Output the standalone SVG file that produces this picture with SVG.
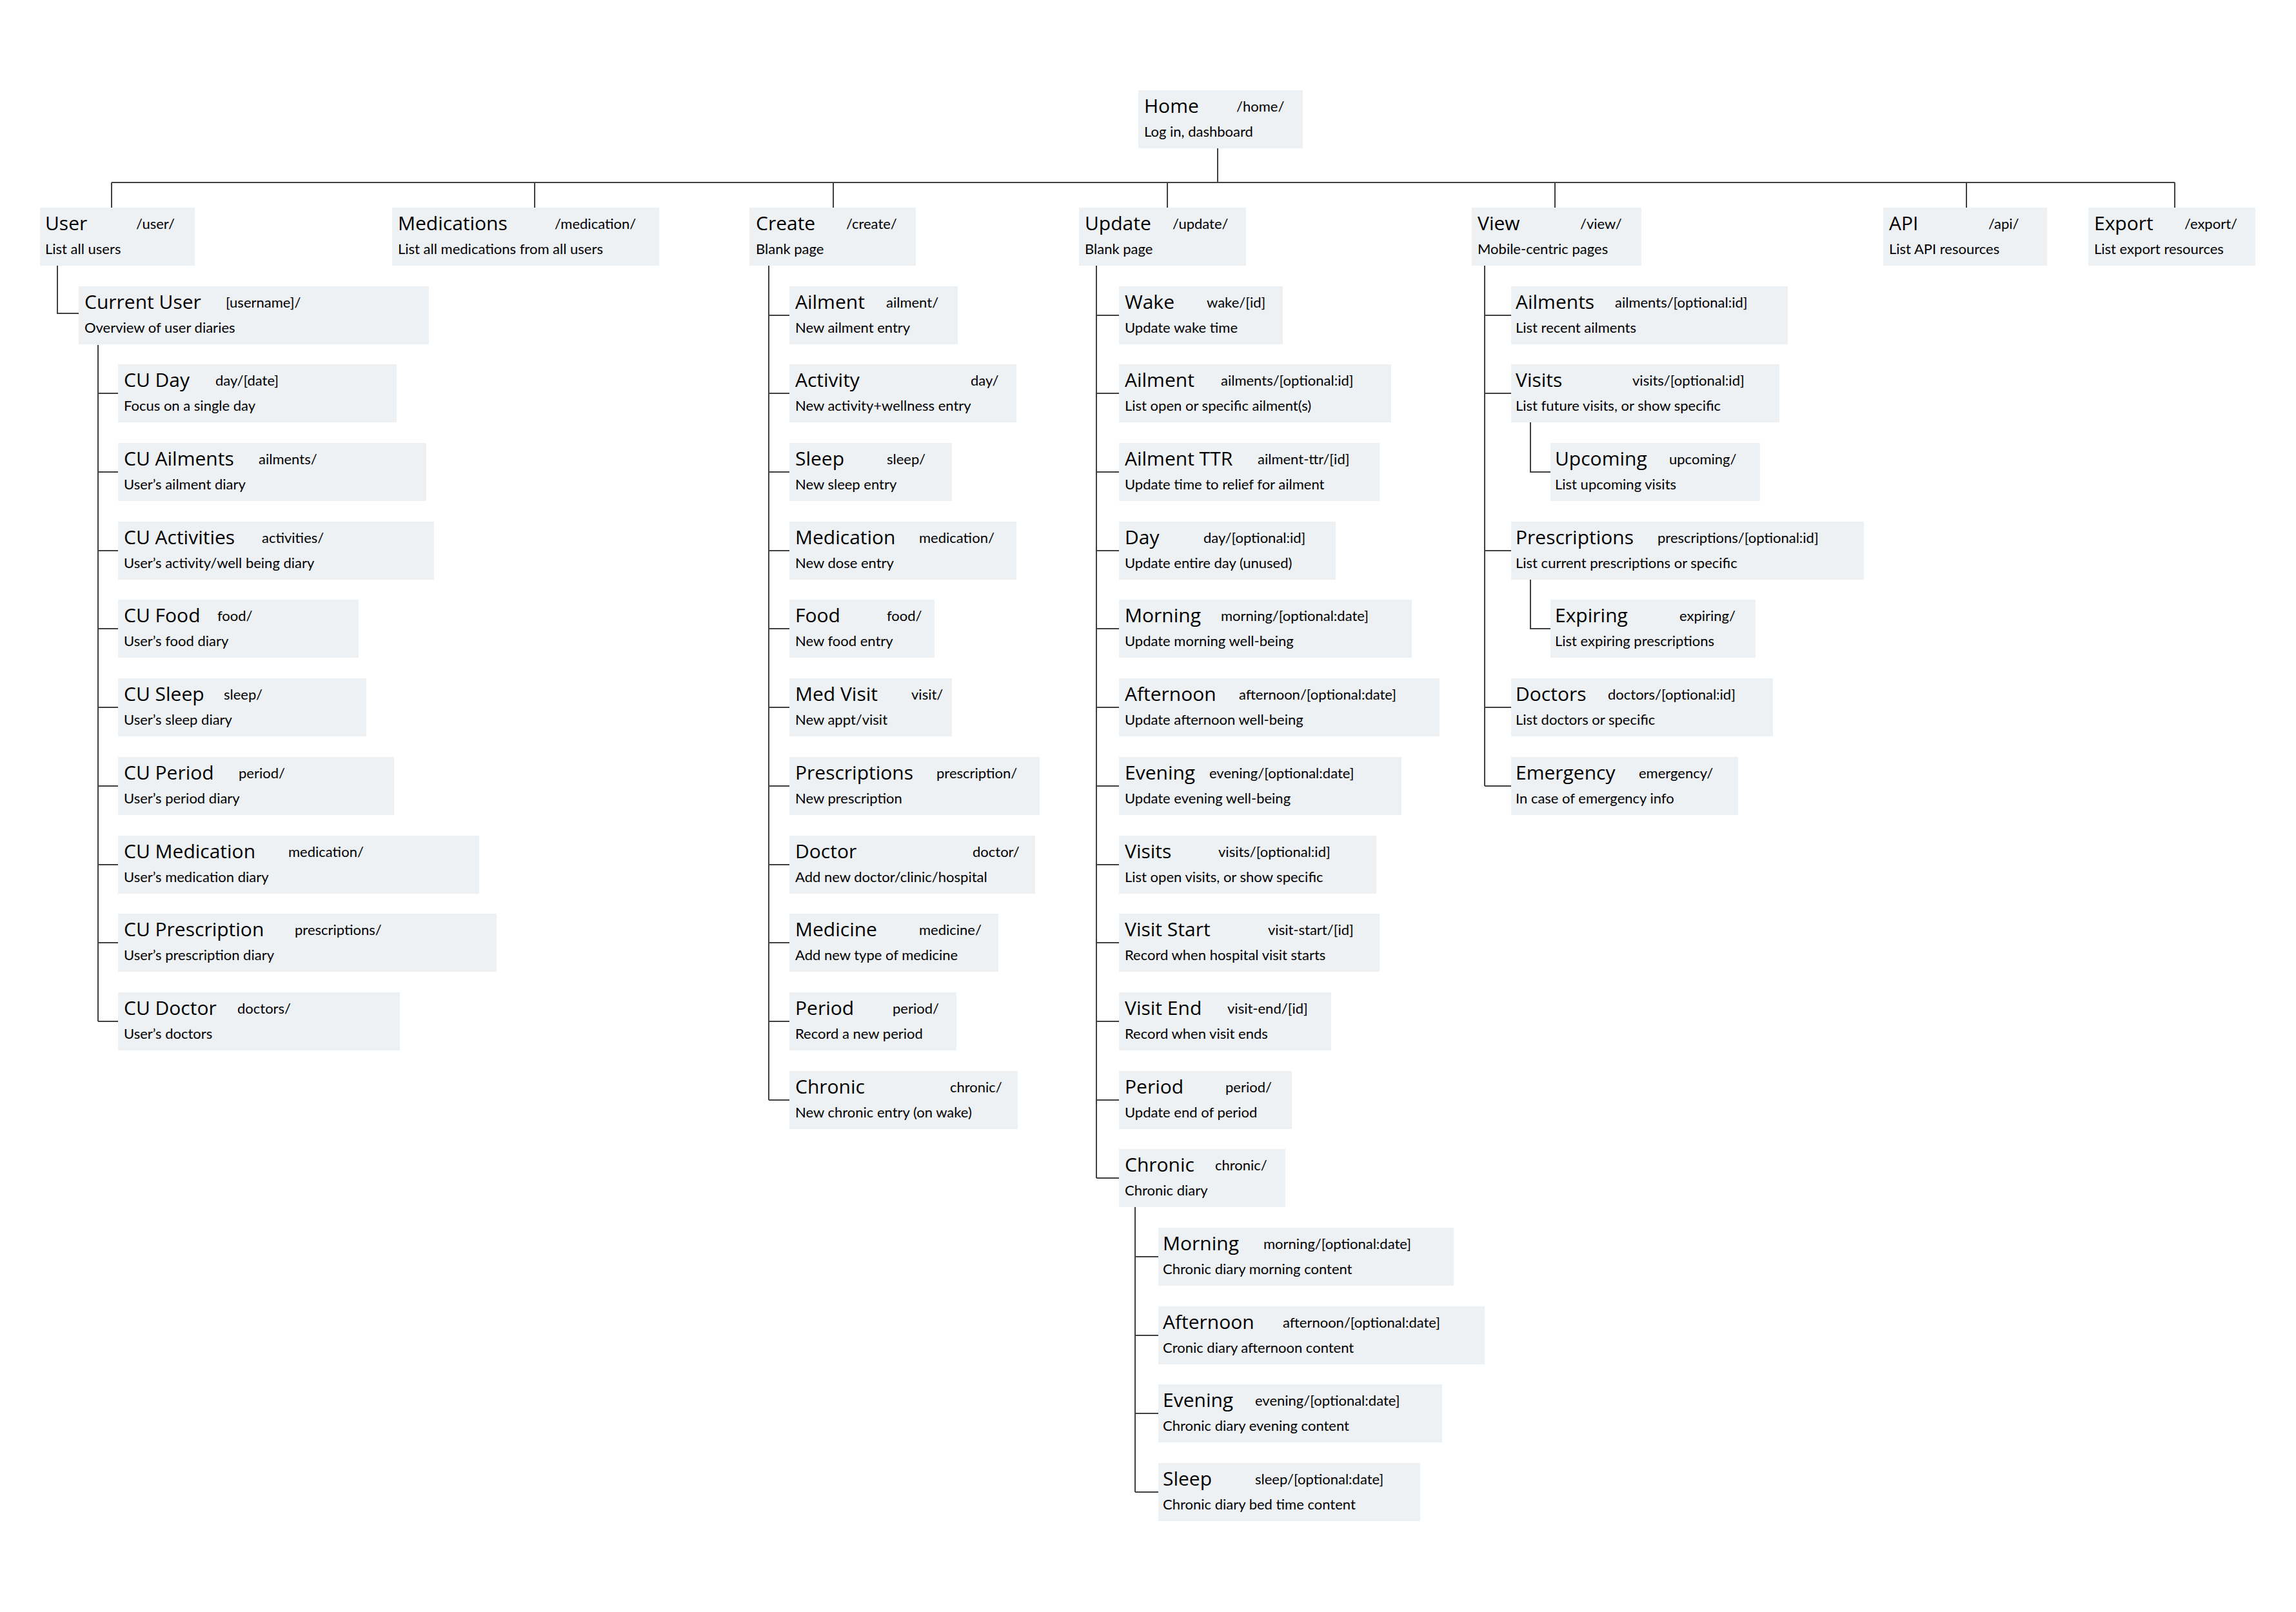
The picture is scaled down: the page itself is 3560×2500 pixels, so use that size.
<svg xmlns="http://www.w3.org/2000/svg" width="3560" height="2500" viewBox="0 0 3560 2500">
<style>
.bg{fill:#ffffff}
.box{fill:#eef1f4}
.t{font-family:"Open Sans","Noto Sans",sans-serif;font-size:30px;fill:#000000}
.p{font-family:Lato,"Liberation Sans",sans-serif;font-size:22px;fill:#000000}
.d{font-family:Lato,"Liberation Sans",sans-serif;font-size:22px;fill:#000000}
.c{stroke:#404040;stroke-width:2;fill:none}
</style>
<rect class="bg" x="0" y="0" width="3560" height="2500"/>
<g id="connectors">
<path class="c" d="M1888 230V283M173 283H3372M173 283V322M829 283V322M1292 283V322M1810 283V322M2411 283V322M3049 283V322M3372 283V322"/>
<path class="c" d="M89 412V486H122"/>
<path class="c" d="M152 535V1584M152 610H183M152 732H183M152 854H183M152 975H183M152 1097H183M152 1219H183M152 1341H183M152 1462H183M152 1584H183"/>
<path class="c" d="M1192 412V1706M1192 489H1224M1192 610H1224M1192 732H1224M1192 854H1224M1192 975H1224M1192 1097H1224M1192 1219H1224M1192 1341H1224M1192 1462H1224M1192 1584H1224M1192 1706H1224"/>
<path class="c" d="M1700 412V1827M1700 489H1735M1700 610H1735M1700 732H1735M1700 854H1735M1700 975H1735M1700 1097H1735M1700 1219H1735M1700 1341H1735M1700 1462H1735M1700 1584H1735M1700 1706H1735M1700 1827H1735"/>
<path class="c" d="M1760 1872V2314M1760 1949H1796M1760 2071H1796M1760 2192H1796M1760 2314H1796"/>
<path class="c" d="M2302 412V1219M2302 489H2343M2302 610H2343M2302 854H2343M2302 1097H2343M2302 1219H2343"/>
<path class="c" d="M2373 655V732H2404M2373 899V975H2404"/>
</g>
<g id="home"><rect class="box" x="1765" y="140" width="255" height="90"/><text class="t" x="1774" y="175">Home</text><text class="p" x="1917" y="173">/home/</text><text class="d" x="1774" y="212">Log in, dashboard</text></g>
<g id="user"><rect class="box" x="62" y="322" width="240" height="90"/><text class="t" x="70" y="357">User</text><text class="p" x="211" y="355">/user/</text><text class="d" x="70" y="394">List all users</text></g>
<g id="medications"><rect class="box" x="608" y="322" width="414" height="90"/><text class="t" x="617" y="357">Medications</text><text class="p" x="860" y="355">/medication/</text><text class="d" x="617" y="394">List all medications from all users</text></g>
<g id="create"><rect class="box" x="1162" y="322" width="258" height="90"/><text class="t" x="1172" y="357">Create</text><text class="p" x="1312" y="355">/create/</text><text class="d" x="1172" y="394">Blank page</text></g>
<g id="update"><rect class="box" x="1673" y="322" width="259" height="90"/><text class="t" x="1682" y="357">Update</text><text class="p" x="1818" y="355">/update/</text><text class="d" x="1682" y="394">Blank page</text></g>
<g id="view"><rect class="box" x="2282" y="322" width="263" height="90"/><text class="t" x="2291" y="357">View</text><text class="p" x="2450" y="355">/view/</text><text class="d" x="2291" y="394">Mobile-centric pages</text></g>
<g id="api"><rect class="box" x="2920" y="322" width="254" height="90"/><text class="t" x="2929" y="357">API</text><text class="p" x="3083" y="355">/api/</text><text class="d" x="2929" y="394">List API resources</text></g>
<g id="export"><rect class="box" x="3238" y="322" width="259" height="90"/><text class="t" x="3247" y="357">Export</text><text class="p" x="3387" y="355">/export/</text><text class="d" x="3247" y="394">List export resources</text></g>
<g id="current-user"><rect class="box" x="122" y="444" width="543" height="90"/><text class="t" x="131" y="479">Current User</text><text class="p" x="350" y="477">[username]/</text><text class="d" x="131" y="516">Overview of user diaries</text></g>
<g id="cu-day"><rect class="box" x="183" y="565" width="432" height="90"/><text class="t" x="192" y="600">CU Day</text><text class="p" x="334" y="598">day/[date]</text><text class="d" x="192" y="637">Focus on a single day</text></g>
<g id="cu-ailments"><rect class="box" x="183" y="687" width="478" height="90"/><text class="t" x="192" y="722">CU Ailments</text><text class="p" x="401" y="720">ailments/</text><text class="d" x="192" y="759">User’s ailment diary</text></g>
<g id="cu-activities"><rect class="box" x="183" y="809" width="490" height="90"/><text class="t" x="192" y="844">CU Activities</text><text class="p" x="406" y="842">activities/</text><text class="d" x="192" y="881">User’s activity/well being diary</text></g>
<g id="cu-food"><rect class="box" x="183" y="930" width="373" height="90"/><text class="t" x="192" y="965">CU Food</text><text class="p" x="337" y="963">food/</text><text class="d" x="192" y="1002">User’s food diary</text></g>
<g id="cu-sleep"><rect class="box" x="183" y="1052" width="385" height="90"/><text class="t" x="192" y="1087">CU Sleep</text><text class="p" x="347" y="1085">sleep/</text><text class="d" x="192" y="1124">User’s sleep diary</text></g>
<g id="cu-period"><rect class="box" x="183" y="1174" width="428" height="90"/><text class="t" x="192" y="1209">CU Period</text><text class="p" x="370" y="1207">period/</text><text class="d" x="192" y="1246">User’s period diary</text></g>
<g id="cu-medication"><rect class="box" x="183" y="1296" width="560" height="90"/><text class="t" x="192" y="1331">CU Medication</text><text class="p" x="447" y="1329">medication/</text><text class="d" x="192" y="1368">User’s medication diary</text></g>
<g id="cu-prescription"><rect class="box" x="183" y="1417" width="587" height="90"/><text class="t" x="192" y="1452">CU Prescription</text><text class="p" x="457" y="1450">prescriptions/</text><text class="d" x="192" y="1489">User’s prescription diary</text></g>
<g id="cu-doctor"><rect class="box" x="183" y="1539" width="437" height="90"/><text class="t" x="192" y="1574">CU Doctor</text><text class="p" x="368" y="1572">doctors/</text><text class="d" x="192" y="1611">User’s doctors</text></g>
<g id="create-ailment"><rect class="box" x="1224" y="444" width="261" height="90"/><text class="t" x="1233" y="479">Ailment</text><text class="p" x="1374" y="477">ailment/</text><text class="d" x="1233" y="516">New ailment entry</text></g>
<g id="create-activity"><rect class="box" x="1224" y="565" width="352" height="90"/><text class="t" x="1233" y="600">Activity</text><text class="p" x="1505" y="598">day/</text><text class="d" x="1233" y="637">New activity+wellness entry</text></g>
<g id="create-sleep"><rect class="box" x="1224" y="687" width="252" height="90"/><text class="t" x="1233" y="722">Sleep</text><text class="p" x="1375" y="720">sleep/</text><text class="d" x="1233" y="759">New sleep entry</text></g>
<g id="create-medication"><rect class="box" x="1224" y="809" width="352" height="90"/><text class="t" x="1233" y="844">Medication</text><text class="p" x="1425" y="842">medication/</text><text class="d" x="1233" y="881">New dose entry</text></g>
<g id="create-food"><rect class="box" x="1224" y="930" width="225" height="90"/><text class="t" x="1233" y="965">Food</text><text class="p" x="1375" y="963">food/</text><text class="d" x="1233" y="1002">New food entry</text></g>
<g id="create-med-visit"><rect class="box" x="1224" y="1052" width="252" height="90"/><text class="t" x="1233" y="1087">Med Visit</text><text class="p" x="1413" y="1085">visit/</text><text class="d" x="1233" y="1124">New appt/visit</text></g>
<g id="create-prescriptions"><rect class="box" x="1224" y="1174" width="388" height="90"/><text class="t" x="1233" y="1209">Prescriptions</text><text class="p" x="1452" y="1207">prescription/</text><text class="d" x="1233" y="1246">New prescription</text></g>
<g id="create-doctor"><rect class="box" x="1224" y="1296" width="381" height="90"/><text class="t" x="1233" y="1331">Doctor</text><text class="p" x="1508" y="1329">doctor/</text><text class="d" x="1233" y="1368">Add new doctor/clinic/hospital</text></g>
<g id="create-medicine"><rect class="box" x="1224" y="1417" width="324" height="90"/><text class="t" x="1233" y="1452">Medicine</text><text class="p" x="1425" y="1450">medicine/</text><text class="d" x="1233" y="1489">Add new type of medicine</text></g>
<g id="create-period"><rect class="box" x="1224" y="1539" width="259" height="90"/><text class="t" x="1233" y="1574">Period</text><text class="p" x="1384" y="1572">period/</text><text class="d" x="1233" y="1611">Record a new period</text></g>
<g id="create-chronic"><rect class="box" x="1224" y="1661" width="354" height="90"/><text class="t" x="1233" y="1696">Chronic</text><text class="p" x="1473" y="1694">chronic/</text><text class="d" x="1233" y="1733">New chronic entry (on wake)</text></g>
<g id="update-wake"><rect class="box" x="1735" y="444" width="254" height="90"/><text class="t" x="1744" y="479">Wake</text><text class="p" x="1871" y="477">wake/[id]</text><text class="d" x="1744" y="516">Update wake time</text></g>
<g id="update-ailment"><rect class="box" x="1735" y="565" width="422" height="90"/><text class="t" x="1744" y="600">Ailment</text><text class="p" x="1893" y="598">ailments/[optional:id]</text><text class="d" x="1744" y="637">List open or specific ailment(s)</text></g>
<g id="update-ailment-ttr"><rect class="box" x="1735" y="687" width="404" height="90"/><text class="t" x="1744" y="722">Ailment TTR</text><text class="p" x="1950" y="720">ailment-ttr/[id]</text><text class="d" x="1744" y="759">Update time to relief for ailment</text></g>
<g id="update-day"><rect class="box" x="1735" y="809" width="336" height="90"/><text class="t" x="1744" y="844">Day</text><text class="p" x="1866" y="842">day/[optional:id]</text><text class="d" x="1744" y="881">Update entire day (unused)</text></g>
<g id="update-morning"><rect class="box" x="1735" y="930" width="454" height="90"/><text class="t" x="1744" y="965">Morning</text><text class="p" x="1893" y="963">morning/[optional:date]</text><text class="d" x="1744" y="1002">Update morning well-being</text></g>
<g id="update-afternoon"><rect class="box" x="1735" y="1052" width="497" height="90"/><text class="t" x="1744" y="1087">Afternoon</text><text class="p" x="1921" y="1085">afternoon/[optional:date]</text><text class="d" x="1744" y="1124">Update afternoon well-being</text></g>
<g id="update-evening"><rect class="box" x="1735" y="1174" width="438" height="90"/><text class="t" x="1744" y="1209">Evening</text><text class="p" x="1875" y="1207">evening/[optional:date]</text><text class="d" x="1744" y="1246">Update evening well-being</text></g>
<g id="update-visits"><rect class="box" x="1735" y="1296" width="399" height="90"/><text class="t" x="1744" y="1331">Visits</text><text class="p" x="1889" y="1329">visits/[optional:id]</text><text class="d" x="1744" y="1368">List open visits, or show specific</text></g>
<g id="update-visit-start"><rect class="box" x="1735" y="1417" width="404" height="90"/><text class="t" x="1744" y="1452">Visit Start</text><text class="p" x="1966" y="1450">visit-start/[id]</text><text class="d" x="1744" y="1489">Record when hospital visit starts</text></g>
<g id="update-visit-end"><rect class="box" x="1735" y="1539" width="329" height="90"/><text class="t" x="1744" y="1574">Visit End</text><text class="p" x="1903" y="1572">visit-end/[id]</text><text class="d" x="1744" y="1611">Record when visit ends</text></g>
<g id="update-period"><rect class="box" x="1735" y="1661" width="268" height="90"/><text class="t" x="1744" y="1696">Period</text><text class="p" x="1900" y="1694">period/</text><text class="d" x="1744" y="1733">Update end of period</text></g>
<g id="update-chronic"><rect class="box" x="1735" y="1782" width="258" height="90"/><text class="t" x="1744" y="1817">Chronic</text><text class="p" x="1884" y="1815">chronic/</text><text class="d" x="1744" y="1854">Chronic diary</text></g>
<g id="chronic-morning"><rect class="box" x="1796" y="1904" width="458" height="90"/><text class="t" x="1803" y="1939">Morning</text><text class="p" x="1959" y="1937">morning/[optional:date]</text><text class="d" x="1803" y="1976">Chronic diary morning content</text></g>
<g id="chronic-afternoon"><rect class="box" x="1796" y="2026" width="506" height="90"/><text class="t" x="1803" y="2061">Afternoon</text><text class="p" x="1989" y="2059">afternoon/[optional:date]</text><text class="d" x="1803" y="2098">Cronic diary afternoon content</text></g>
<g id="chronic-evening"><rect class="box" x="1796" y="2147" width="440" height="90"/><text class="t" x="1803" y="2182">Evening</text><text class="p" x="1946" y="2180">evening/[optional:date]</text><text class="d" x="1803" y="2219">Chronic diary evening content</text></g>
<g id="chronic-sleep"><rect class="box" x="1796" y="2269" width="406" height="90"/><text class="t" x="1803" y="2304">Sleep</text><text class="p" x="1946" y="2302">sleep/[optional:date]</text><text class="d" x="1803" y="2341">Chronic diary bed time content</text></g>
<g id="view-ailments"><rect class="box" x="2343" y="444" width="429" height="90"/><text class="t" x="2350" y="479">Ailments</text><text class="p" x="2504" y="477">ailments/[optional:id]</text><text class="d" x="2350" y="516">List recent ailments</text></g>
<g id="view-visits"><rect class="box" x="2343" y="565" width="416" height="90"/><text class="t" x="2350" y="600">Visits</text><text class="p" x="2531" y="598">visits/[optional:id]</text><text class="d" x="2350" y="637">List future visits, or show specific</text></g>
<g id="view-upcoming"><rect class="box" x="2404" y="687" width="325" height="90"/><text class="t" x="2411" y="722">Upcoming</text><text class="p" x="2588" y="720">upcoming/</text><text class="d" x="2411" y="759">List upcoming visits</text></g>
<g id="view-prescriptions"><rect class="box" x="2343" y="809" width="547" height="90"/><text class="t" x="2350" y="844">Prescriptions</text><text class="p" x="2570" y="842">prescriptions/[optional:id]</text><text class="d" x="2350" y="881">List current prescriptions or specific</text></g>
<g id="view-expiring"><rect class="box" x="2404" y="930" width="318" height="90"/><text class="t" x="2411" y="965">Expiring</text><text class="p" x="2604" y="963">expiring/</text><text class="d" x="2411" y="1002">List expiring prescriptions</text></g>
<g id="view-doctors"><rect class="box" x="2343" y="1052" width="406" height="90"/><text class="t" x="2350" y="1087">Doctors</text><text class="p" x="2493" y="1085">doctors/[optional:id]</text><text class="d" x="2350" y="1124">List doctors or specific</text></g>
<g id="view-emergency"><rect class="box" x="2343" y="1174" width="352" height="90"/><text class="t" x="2350" y="1209">Emergency</text><text class="p" x="2541" y="1207">emergency/</text><text class="d" x="2350" y="1246">In case of emergency info</text></g>
</svg>
